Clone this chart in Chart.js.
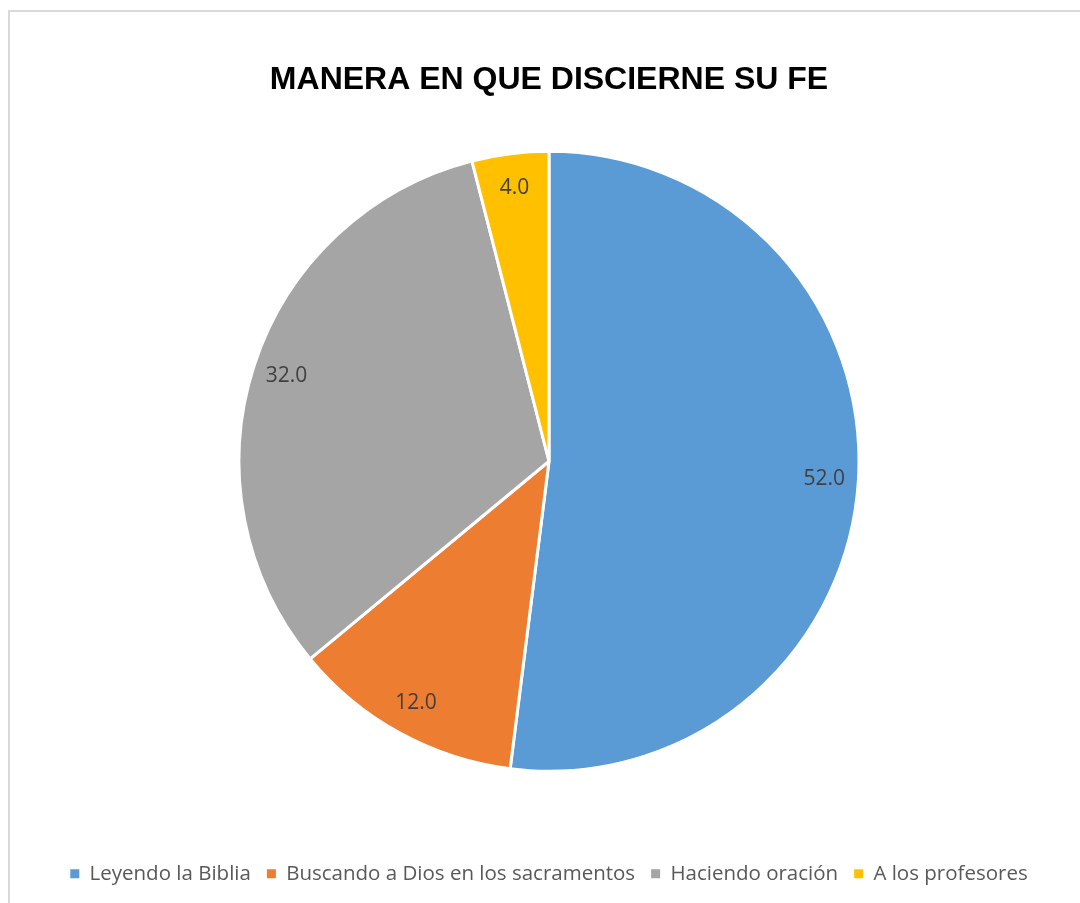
<!DOCTYPE html>
<html>
<head>
<meta charset="utf-8">
<script src="https://cdn.jsdelivr.net/npm/chart.js@4.4.1/dist/chart.umd.min.js"></script>
<style>
    body { margin: 0; background: #ffffff; }
    #wrap { position: relative; width: 1080px; height: 903px; overflow: hidden; }
    #frame { position: absolute; left: 8px; top: 10px; width: 1100px; height: 920px; border: 2px solid #d9d9d9; box-sizing: border-box; }
    canvas { position: absolute; left: 0; top: 0; }
</style>
</head>
<body>
<div id="wrap">
    <div id="frame"></div>
    <canvas id="pieChart" width="1080" height="903"></canvas>
</div>
<script>
const chartTitle = 'MANERA EN QUE DISCIERNE SU FE';
const categories = ['Leyendo la Biblia', 'Buscando a Dios en los sacramentos', 'Haciendo oración', 'A los profesores'];
const values = [52.0, 12.0, 32.0, 4.0];
const sliceColors = ['#5B9BD5', '#ED7D31', '#A5A5A5', '#FFC000'];

// labels inside the slices, near the outer edge
const sliceLabels = {
    id: 'sliceLabels',
    afterDatasetsDraw(chart) {
        const ctx = chart.ctx;
        const meta = chart.getDatasetMeta(0);
        ctx.save();
        ctx.font = '21px "Open Sans"';
        ctx.fillStyle = '#404040';
        ctx.textAlign = 'center';
        ctx.textBaseline = 'middle';
        meta.data.forEach((arc, i) => {
            const mid = (arc.startAngle + arc.endAngle) / 2;
            const r = arc.outerRadius * 0.89;
            ctx.fillText(values[i].toFixed(1), arc.x + Math.cos(mid) * r, arc.y + Math.sin(mid) * r);
        });
        ctx.restore();
    }
};

// legend squares without the white slice border
const pieLabels = Chart.overrides.pie.plugins.legend.labels.generateLabels;
function legendItems(chart) {
    return pieLabels(chart).map(item => {
        item.lineWidth = 0;
        item.strokeStyle = item.fillStyle;
        return item;
    });
}

const ctx = document.getElementById('pieChart').getContext('2d');
new Chart(ctx, {
    type: 'pie',
    data: {
        labels: categories,
        datasets: [{
            data: values,
            backgroundColor: sliceColors,
            borderColor: '#ffffff',
            borderWidth: 3,
            radius: 310
        }]
    },
    options: {
        responsive: false,
        animation: false,
        layout: { padding: { left: 18, right: 0, top: 0, bottom: 9 } },
        plugins: {
            title: {
                display: true,
                text: chartTitle,
                color: '#000000',
                font: { family: '"Liberation Sans", Arial, sans-serif', size: 32, weight: 'bold' },
                padding: { top: 61, bottom: 8 }
            },
            legend: {
                position: 'bottom',
                title: { display: true, text: '', padding: { top: 18, bottom: 0 } },
                labels: {
                    color: '#595959',
                    font: { family: '"Open Sans"', size: 20.5 },
                    boxWidth: 9,
                    boxHeight: 9,
                    padding: 16,
                    generateLabels: legendItems
                }
            },
            tooltip: { enabled: false }
        }
    },
    plugins: [sliceLabels]
});
</script>
</body>
</html>
